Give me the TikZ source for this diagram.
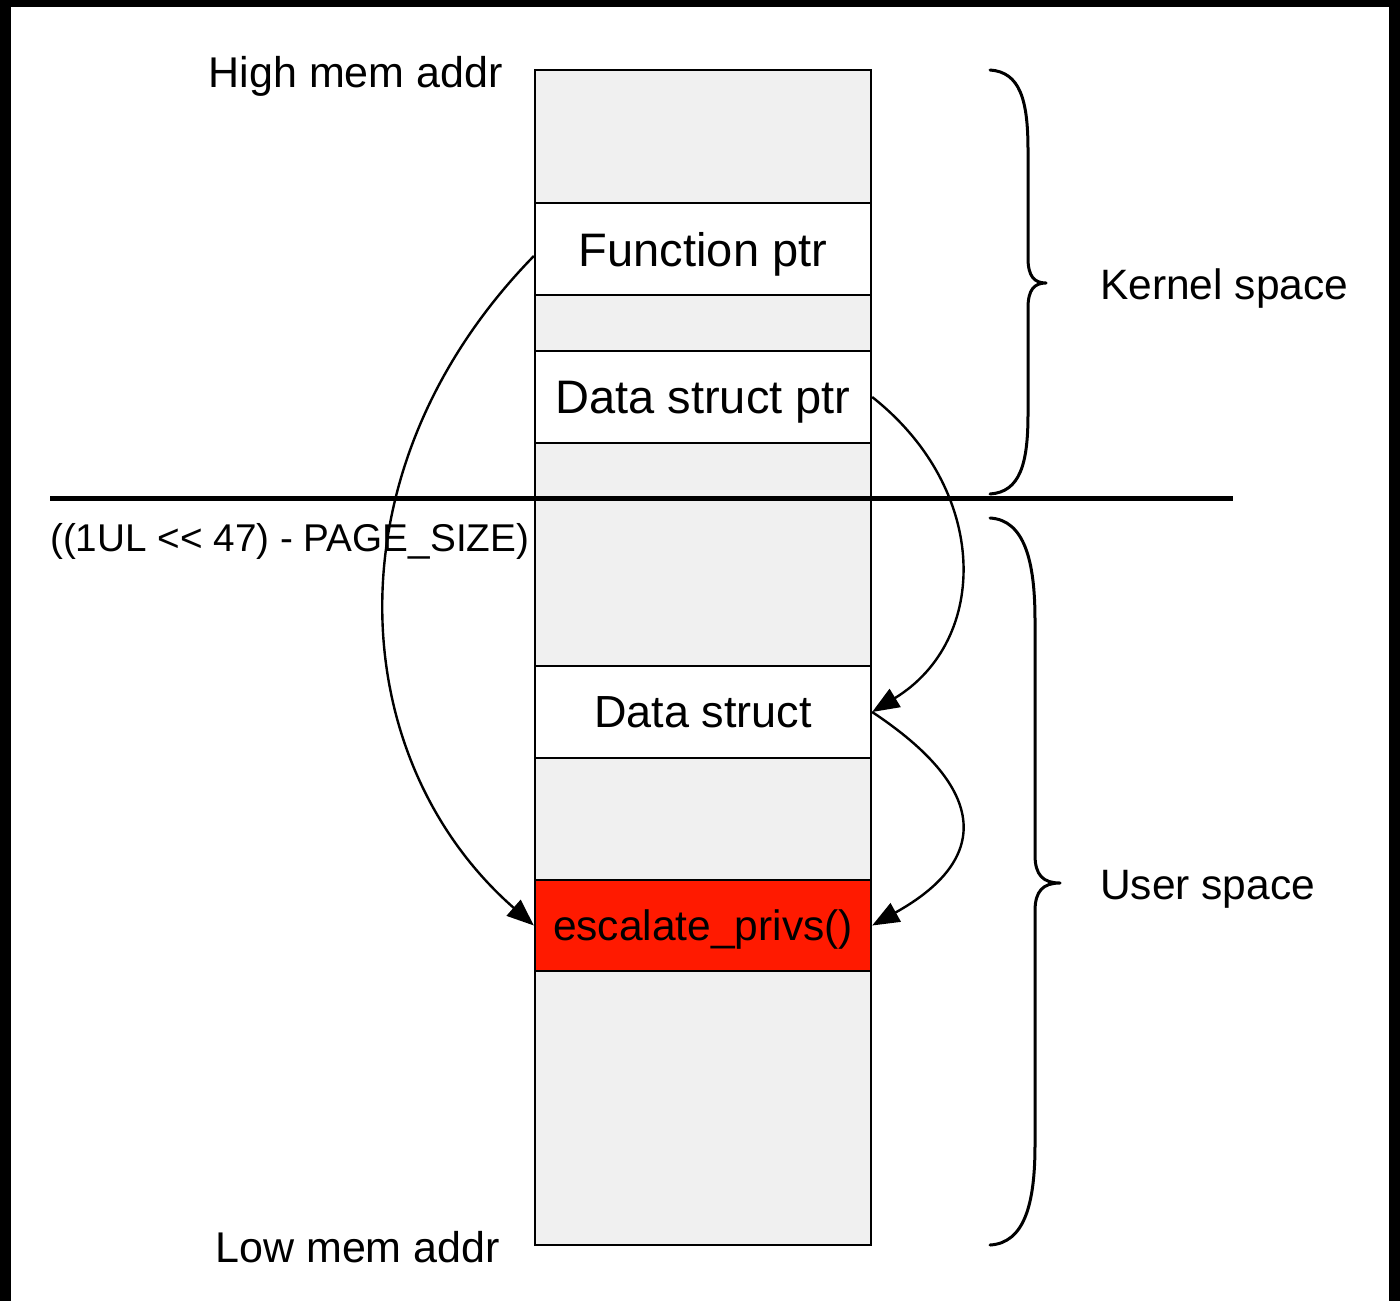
\documentclass[tikz,border=0pt]{standalone}
\usepackage{fontspec}
\setmainfont{Liberation Sans}
\usetikzlibrary{arrows.meta}
\definecolor{colfill}{HTML}{F0F0F0}
\definecolor{hot}{RGB}{255,26,0}
\begin{document}
\begin{tikzpicture}[x=1pt,y=-1pt,
  colbox/.style={draw=black, line width=2.3pt, fill=colfill, minimum width=336pt, inner sep=0pt},
  cell/.style={draw=black, line width=2.3pt, fill=white, minimum width=336pt, minimum height=92pt, inner sep=0pt, text depth=0pt},
  lbl/.style={inner sep=0pt, text depth=0pt, font=\fontsize{43}{50}\selectfont},
  conn/.style={line width=2.4pt, -{Triangle[length=27pt,width=21pt]}},
  brace/.style={line width=3pt, line cap=round, line join=round}]
\useasboundingbox (0,0) rectangle (1400,1301);
\fill[black] (0,0) rectangle (1400,1301);
\fill[white] (11,7) rectangle (1389,1301);

% memory column
\node[colbox, minimum height=1175pt] (col) at (703,657.5) {};
\node[cell, font=\fontsize{47}{56}\selectfont] (fptr) at (703,249) {Function ptr};
\node[cell, font=\fontsize{47}{56}\selectfont] (dsptr) at (703,397) {Data struct ptr};
\node[cell, font=\fontsize{45}{54}\selectfont] (ds) at (703,712) {Data struct};
\node[cell, fill=hot, minimum height=91pt, font=\fontsize{42.5}{50}\selectfont] (esc) at (703,925.5) {escalate\_privs()};

% boundary line
\coordinate (bl) at (50,498);
\coordinate (br) at (1233,498);
\draw[line width=5pt] (bl) -- (br);

% labels
\node[lbl, anchor=east] (high) at (503,72) {High mem addr};
\node[lbl, anchor=east] (low) at (500,1247) {Low mem addr};
\node[lbl, anchor=west, font=\fontsize{38.7}{46}\selectfont] (pagesz) at (50,537) {((1UL <{}< 47) - PAGE\_SIZE)};
\node[lbl, anchor=west, font=\fontsize{42.5}{50}\selectfont] (kern) at (1100,284) {Kernel space};
\node[lbl, anchor=west, font=\fontsize{42.5}{50}\selectfont] (user) at (1100,885) {User space};

% braces
\draw[brace] (990,70) .. controls (1020,72) and (1028,100) .. (1028,150) -- (1028,258)
  .. controls (1028,276) and (1034,283) .. (1046,283)
  .. controls (1034,283) and (1028,290) .. (1028,308) -- (1028,414)
  .. controls (1028,464) and (1020,492) .. (990,494);
\draw[brace] (990,518) .. controls (1024,520) and (1035,560) .. (1035,620) -- (1035,855)
  .. controls (1035,875) and (1043,883) .. (1060,883)
  .. controls (1043,883) and (1035,891) .. (1035,911) -- (1035,1145)
  .. controls (1035,1205) and (1024,1243) .. (990,1245);

% connectors
\draw[conn] ([yshift=-7pt]fptr.west) .. controls (325,470) and (345,760) .. (esc.west);
\draw[conn] (dsptr.east) .. controls (990,490) and (990,640) .. (ds.east);
\draw[conn] (ds.east) .. controls (990,790) and (990,860) .. (esc.east);
\end{tikzpicture}
\end{document}
